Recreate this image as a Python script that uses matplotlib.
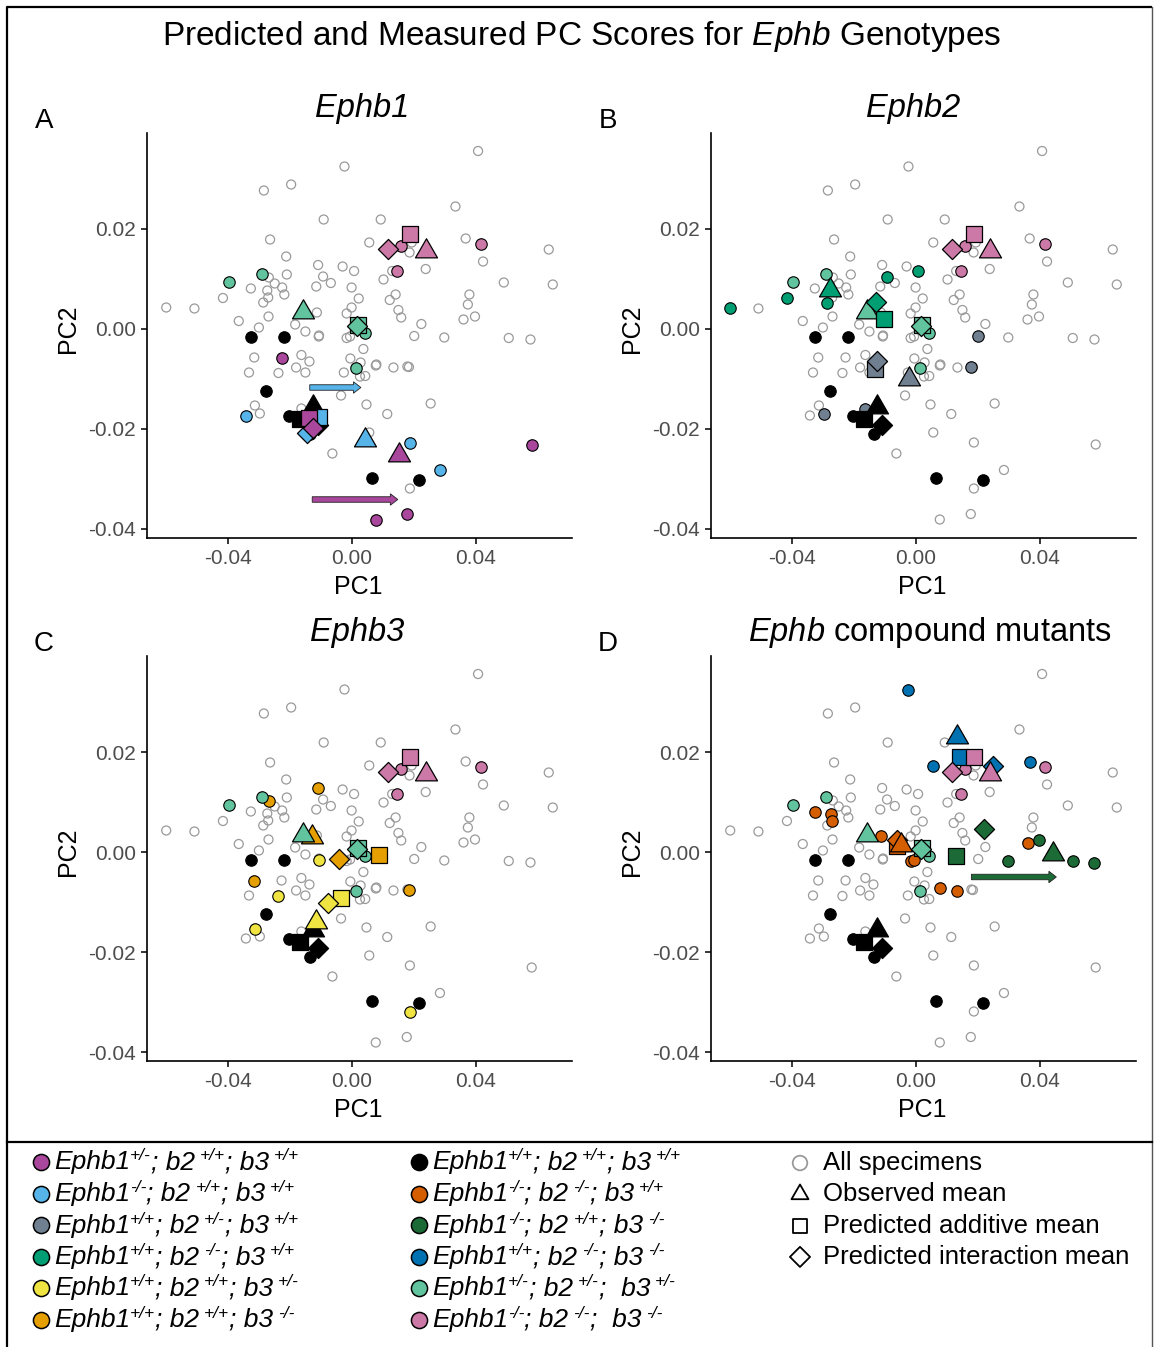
import numpy as np
import matplotlib
matplotlib.use('Agg')
import matplotlib.pyplot as plt
from matplotlib.patches import FancyArrow
from matplotlib.path import Path

plt.rcParams['font.family'] = ['Liberation Sans', 'DejaVu Sans']
plt.rcParams['mathtext.fontset'] = 'custom'
plt.rcParams['mathtext.rm'] = 'Liberation Sans'
plt.rcParams['mathtext.it'] = 'Liberation Sans:italic'
plt.rcParams['mathtext.bf'] = 'Liberation Sans:bold'
plt.rcParams['axes.unicode_minus'] = False

# specimens that are grey in every panel
other_pc1 = [0.0408, -0.0195, -0.0283, 0.0335, -0.0090, 0.0094, -0.0263, 0.0194, 0.0636, 0.0187,
             -0.0211, 0.0424, 0.0239, -0.0029, 0.0131, -0.0209, -0.0067, 0.0103, 0.0491, 0.0649,
             -0.0248, -0.0224, -0.0114, 0.0000, -0.0217, 0.0142, 0.0380, 0.0023, 0.0123, 0.0375,
             -0.0507, 0.0000, 0.0151, -0.0268, -0.0016, 0.0160, -0.0364, -0.0182, 0.0225, -0.0299,
             -0.0149, -0.0105, 0.0038, -0.0162, -0.0136, -0.0004, 0.0029, 0.0078, -0.0179, -0.0149,
             -0.0331, -0.0025, 0.0027, 0.0044, -0.0034, 0.0048, 0.0255, 0.0115, 0.0057, -0.0062]
other_pc2 = [0.0356, 0.0289, 0.0277, 0.0245, 0.0219, 0.0219, 0.0179, 0.0173, 0.0159, 0.0153,
             0.0145, 0.0135, 0.0120, 0.0125, 0.0116, 0.0109, 0.0092, 0.0099, 0.0093, 0.0089,
             0.0091, 0.0083, 0.0085, 0.0083, 0.0069, 0.0069, 0.0069, 0.0061, 0.0058, 0.0049,
             0.0041, 0.0043, 0.0038, 0.0025, 0.0031, 0.0023, 0.0016, 0.0009, 0.0010, 0.0003,
             -0.0005, -0.0013, -0.0040, -0.0052, -0.0065, -0.0059, -0.0067, -0.0073, -0.0077, -0.0087,
             -0.0087, -0.0087, -0.0095, -0.0094, -0.0133, -0.0151, -0.0149, -0.0170, -0.0207, -0.0249]

# genotype specimens and means (observed, predicted additive, predicted interaction)
wt_pc1 = [-0.0324, -0.0217, -0.0276, -0.0202, -0.0135, 0.0067, 0.0216]
wt_pc2 = [-0.0015, -0.0015, -0.0123, -0.0173, -0.0210, -0.0298, -0.0302]
wt_obs, wt_add, wt_int = (-0.0124, -0.0155), (-0.0167, -0.0179), (-0.0108, -0.0192)

b1het_pc1 = [-0.0226, 0.0581, 0.0078, 0.0178]
b1het_pc2 = [-0.0057, -0.0231, -0.0381, -0.0370]
b1het_obs, b1het_add, b1het_int = (0.0152, -0.0252), (-0.0137, -0.0177), (-0.0126, -0.0197)

b1ko_pc1 = [-0.0341, 0.0188, 0.0285]
b1ko_pc2 = [-0.0173, -0.0227, -0.0282]
b1ko_obs, b1ko_add, b1ko_int = (0.0044, -0.0222), (-0.0106, -0.0175), (-0.0145, -0.0207)

b2het_pc1 = [0.0202, 0.0180, -0.0296, -0.0162]
b2het_pc2 = [-0.0014, -0.0075, -0.0169, -0.0159]
b2het_obs, b2het_add, b2het_int = (-0.0022, -0.0099), (-0.0131, -0.0079), (-0.0124, -0.0064)

b2ko_pc1 = [-0.0598, -0.0415, -0.0285, -0.0092, 0.0008]
b2ko_pc2 = [0.0043, 0.0062, 0.0053, 0.0105, 0.0116]
b2ko_obs, b2ko_add, b2ko_int = (-0.0277, 0.0079), (-0.0102, 0.0020), (-0.0127, 0.0055)

b3het_pc1 = [-0.0106, -0.0236, -0.0312, 0.0188]
b3het_pc2 = [-0.0015, -0.0088, -0.0153, -0.0319]
b3het_obs, b3het_add, b3het_int = (-0.0116, -0.0139), (-0.0034, -0.0092), (-0.0076, -0.0102)

b3ko_pc1 = [-0.0108, -0.0267, -0.0314, 0.0185]
b3ko_pc2 = [0.0128, 0.0103, -0.0057, -0.0076]
b3ko_obs, b3ko_add, b3ko_int = (-0.0127, 0.0030), (0.0087, -0.0005), (-0.0040, -0.0013)

b1b2_pc1 = [-0.0325, -0.0272, -0.0269, -0.0112, -0.0016, -0.0005, 0.0080, 0.0135, 0.0361]
b1b2_pc2 = [0.0081, 0.0077, 0.0063, 0.0033, -0.0018, -0.0015, -0.0071, -0.0077, 0.0019]
b1b2_obs, b1b2_add, b1b2_int = (-0.0048, 0.0015), (-0.0059, 0.0012), (-0.0061, 0.0025)

b1b3_pc1 = [0.0299, 0.0398, 0.0507, 0.0577]
b1b3_pc2 = [-0.0017, 0.0025, -0.0018, -0.0021]
b1b3_obs, b1b3_add, b1b3_int = (0.0444, -0.0003), (0.0129, -0.0007), (0.0221, 0.0046)

b2b3_pc1 = [-0.0023, 0.0057, 0.0368]
b2b3_pc2 = [0.0325, 0.0173, 0.0181]
b2b3_obs, b2b3_add, b2b3_int = (0.0135, 0.0231), (0.0143, 0.0191), (0.0251, 0.0173)

trihet_pc1 = [-0.0395, -0.0289, 0.0043, 0.0013]
trihet_pc2 = [0.0094, 0.0111, -0.0007, -0.0077]
trihet_obs, trihet_add, trihet_int = (-0.0158, 0.0035), (0.0022, 0.0009), (0.0016, 0.0006)

triko_pc1 = [0.0160, 0.0417, 0.0148]
triko_pc2 = [0.0167, 0.0171, 0.0116]
triko_obs, triko_add, triko_int = (0.0240, 0.0157), (0.0188, 0.0191), (0.0118, 0.0160)

# shift arrows: (start pc1, end pc1, pc2)
arrow_b1ko = (-0.0135, 0.0030, -0.0117)
arrow_b1het = (-0.0127, 0.0149, -0.0341)
arrow_b1b3 = (0.0180, 0.0454, -0.0050)


def geno_parts(b1, b2, b3, wide=False):
    # (text, main size?, gap before) pieces of a legend label
    return [('Ephb1', True, 0), (b1, False, 0), ('; b2', True, 0), (b2, False, 5),
            (';  b3' if wide else '; b3', True, 0), (b3, False, 5)]


G = {
    'b1het': dict(pc1=b1het_pc1, pc2=b1het_pc2, m=(b1het_obs, b1het_add, b1het_int),
                  color='#A8479B', label=geno_parts('+/-', '+/+', '+/+')),
    'b1ko': dict(pc1=b1ko_pc1, pc2=b1ko_pc2, m=(b1ko_obs, b1ko_add, b1ko_int),
                 color='#56B4E9', label=geno_parts('-/-', '+/+', '+/+')),
    'b2het': dict(pc1=b2het_pc1, pc2=b2het_pc2, m=(b2het_obs, b2het_add, b2het_int),
                  color='#708090', label=geno_parts('+/+', '+/-', '+/+')),
    'b2ko': dict(pc1=b2ko_pc1, pc2=b2ko_pc2, m=(b2ko_obs, b2ko_add, b2ko_int),
                 color='#009E73', label=geno_parts('+/+', '-/-', '+/+')),
    'b3het': dict(pc1=b3het_pc1, pc2=b3het_pc2, m=(b3het_obs, b3het_add, b3het_int),
                  color='#F0E442', label=geno_parts('+/+', '+/+', '+/-')),
    'b3ko': dict(pc1=b3ko_pc1, pc2=b3ko_pc2, m=(b3ko_obs, b3ko_add, b3ko_int),
                 color='#E69F00', label=geno_parts('+/+', '+/+', '-/-')),
    'wt': dict(pc1=wt_pc1, pc2=wt_pc2, m=(wt_obs, wt_add, wt_int),
               color='#000000', label=geno_parts('+/+', '+/+', '+/+')),
    'b1b2': dict(pc1=b1b2_pc1, pc2=b1b2_pc2, m=(b1b2_obs, b1b2_add, b1b2_int),
                 color='#D55E00', label=geno_parts('-/-', '-/-', '+/+')),
    'b1b3': dict(pc1=b1b3_pc1, pc2=b1b3_pc2, m=(b1b3_obs, b1b3_add, b1b3_int),
                 color='#1C6B37', label=geno_parts('-/-', '+/+', '-/-')),
    'b2b3': dict(pc1=b2b3_pc1, pc2=b2b3_pc2, m=(b2b3_obs, b2b3_add, b2b3_int),
                 color='#0072B2', label=geno_parts('+/+', '-/-', '-/-')),
    'trihet': dict(pc1=trihet_pc1, pc2=trihet_pc2, m=(trihet_obs, trihet_add, trihet_int),
                   color='#62C39F', label=geno_parts('+/-', '+/-', '+/-', True)),
    'triko': dict(pc1=triko_pc1, pc2=triko_pc2, m=(triko_obs, triko_add, triko_int),
                  color='#CC79A7', label=geno_parts('-/-', '-/-', '-/-', True)),
}

all_pc1 = np.concatenate([other_pc1] + [g['pc1'] for g in G.values()])
all_pc2 = np.concatenate([other_pc2] + [g['pc2'] for g in G.values()])

TRI = Path([(0, 1), (-0.866, -0.5), (0.866, -0.5), (0, 1)],
           [Path.MOVETO, Path.LINETO, Path.LINETO, Path.CLOSEPOLY])

W, H = 1155, 1347
fig = plt.figure(figsize=(W / 100, H / 100), dpi=100)
lax = fig.add_axes([0, 0, 1, 1])
lax.set_xlim(0, W)
lax.set_ylim(H, 0)
lax.axis('off')
renderer = fig.canvas.get_renderer()

# outer frame and legend separator
lax.plot([7, 7, 1152], [H, 7, 7], color='black', lw=1.6, solid_capstyle='butt')
lax.plot([1152, 1152], [7, H], color='#555555', lw=1.0)
lax.plot([7, 1152], [1142, 1142], color='black', lw=1.6)

lax.text(582, 37, r'Predicted and Measured PC Scores for $\mathit{Ephb}$ Genotypes',
         ha='center', va='center', fontsize=24)


def panel(px_left, px_top, genos, arrows, title, letter, title_x):
    rect = [px_left / W, 1 - (px_top + 404.5) / H, 425 / W, 404.5 / H]
    ax = fig.add_axes(rect)
    ax.set_xlim(-0.066, 0.0711)
    ax.set_ylim(-0.0417, 0.0392)
    ax.scatter(all_pc1, all_pc2, s=42, facecolors='none', edgecolors='#9a9a9a',
               linewidths=0.9, zorder=2)
    for key in genos:
        g = G[key]
        ax.scatter(g['pc1'], g['pc2'], s=68, c=g['color'], edgecolors='black',
                   linewidths=0.8, zorder=3)
    for key, (x0, x1, y) in arrows:
        ax.add_patch(FancyArrow(x0, y, x1 - x0, 0, width=0.0011, head_width=0.0023,
                                head_length=0.0024, length_includes_head=True,
                                facecolor=G[key]['color'], edgecolor='#222222',
                                linewidth=0.6, zorder=3.5))
    z = 4
    for key in genos:
        g = G[key]
        obs, add, inter = g['m']
        ax.scatter([add[0]], [add[1]], marker='s', s=117, c=g['color'],
                   edgecolors='black', linewidths=0.9, zorder=z)
        ax.scatter([inter[0]], [inter[1]], marker='D', s=105, c=g['color'],
                   edgecolors='black', linewidths=0.9, zorder=z + 0.1)
        ax.scatter([obs[0]], [obs[1]], marker=TRI, s=335, c=g['color'],
                   edgecolors='black', linewidths=0.9, zorder=z + 0.2)
        z += 0.5
    for side in ('top', 'right'):
        ax.spines[side].set_visible(False)
    for side in ('left', 'bottom'):
        ax.spines[side].set_linewidth(1.2)
        ax.spines[side].set_color('black')
    ax.set_xticks([-0.04, 0.0, 0.04])
    ax.set_xticklabels(['-0.04', '0.00', '0.04'])
    ax.set_yticks([-0.04, -0.02, 0.0, 0.02])
    ax.set_yticklabels(['-0.04', '-0.02', '0.00', '0.02'])
    ax.tick_params(length=4, width=1.1, labelsize=15, labelcolor='#4d4d4d', pad=4)
    cx = px_left + 212
    lax.text(cx - 1, px_top + 454, 'PC1', ha='center', va='center', fontsize=18)
    lax.text(px_left - 79, px_top + 196, 'PC2', ha='center', va='center',
             fontsize=18, rotation=90)
    lax.text(title_x, px_top - 24, title, ha='center', va='center', fontsize=23.5,
             style='italic' if letter != 'D' else 'normal')
    lax.text(px_left - 103, px_top - 12, letter, ha='center', va='center', fontsize=20)
    return ax


panel(147, 133, ['wt', 'trihet', 'triko', 'b1ko', 'b1het'],
      [('b1ko', arrow_b1ko), ('b1het', arrow_b1het)],
      'Ephb1', 'A', 362)
panel(711, 133, ['wt', 'trihet', 'triko', 'b2het', 'b2ko'], [],
      'Ephb2', 'B', 913)
panel(147, 656, ['wt', 'triko', 'b3ko', 'b3het', 'trihet'], [],
      'Ephb3', 'C', 357)
panel(711, 656, ['wt', 'b1b2', 'b1b3', 'b2b3', 'trihet', 'triko'],
      [('b1b3', arrow_b1b3)],
      r'$\mathit{Ephb}$ compound mutants', 'D', 930)


def rich_text(x, y, parts, size=19, sup_size=12.5):
    base = y + 7.5
    for txt, main, gap in parts:
        x += gap
        t = lax.text(x, base if main else base - 9, txt, ha='left', va='baseline',
                     fontsize=size if main else sup_size, style='italic')
        x += t.get_window_extent(renderer).width


# legend
col1 = ['b1het', 'b1ko', 'b2het', 'b2ko', 'b3het', 'b3ko']
col2 = ['wt', 'b1b2', 'b1b3', 'b2b3', 'trihet', 'triko']
for cx, keys in ((41, col1), (419, col2)):
    for i, key in enumerate(keys):
        y = 1162 + i * 31.5
        lax.scatter([cx], [y], s=135, c=G[key]['color'], edgecolors='black',
                    linewidths=1.1, zorder=3)
        rich_text(cx + 13, y, G[key]['label'])

shape_rows = [('o', 'All specimens', '#9a9a9a', 110),
              (TRI, 'Observed mean', 'black', 200),
              ('s', 'Predicted additive mean', 'black', 100),
              ('D', 'Predicted interaction mean', 'black', 105)]
for i, (mk, txt, ec, sz) in enumerate(shape_rows):
    y = 1163 + i * 31.3
    lax.scatter([800], [y], marker=mk, s=sz, facecolors='none', edgecolors=ec,
                linewidths=1.3, zorder=3)
    lax.text(823, y, txt, ha='left', va='center', fontsize=18.5)

fig.savefig('out.png', dpi=100)
